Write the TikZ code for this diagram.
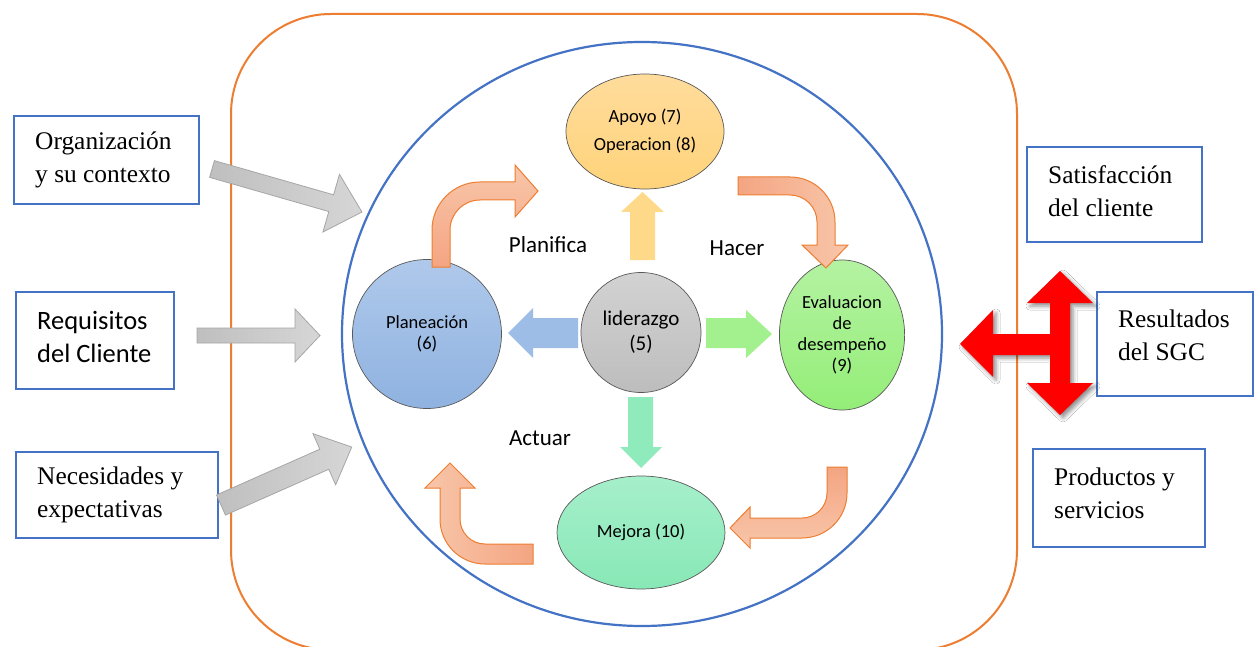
\documentclass[tikz,border=0pt]{standalone}
\usepackage{fontspec}
\setmainfont{Liberation Serif}
\newfontfamily\calibri{Carlito}
\usetikzlibrary{shapes.geometric,shadows.blur}
\definecolor{boxblue}{HTML}{4472C4}
\definecolor{frameorange}{HTML}{ED7D31}
\definecolor{bentdark}{HTML}{F4A582}
\definecolor{bentlight}{HTML}{F8C6AA}
\definecolor{bentedge}{HTML}{ED7D31}
\definecolor{grayfillA}{HTML}{BFBFBF}
\definecolor{grayfillB}{HTML}{D6D6D6}
\definecolor{grayedge}{HTML}{A6A6A6}
\definecolor{apoyoA}{HTML}{FFDC9C}
\definecolor{apoyoB}{HTML}{FFD37A}
\definecolor{planA}{HTML}{AFC9EB}
\definecolor{planB}{HTML}{8FB2E0}
\definecolor{lidA}{HTML}{D2D2D2}
\definecolor{lidB}{HTML}{BDBDBD}
\definecolor{evalA}{HTML}{B4F2A2}
\definecolor{evalB}{HTML}{94EE78}
\definecolor{mejA}{HTML}{A6EFCB}
\definecolor{mejB}{HTML}{88E8B6}
\definecolor{yarrow}{HTML}{FFD98A}
\definecolor{barrow}{HTML}{9DBDE7}
\definecolor{garrow}{HTML}{A2F08E}
\definecolor{tarrow}{HTML}{8FEBBB}
\newcommand\grayblockarrow[7]{%
  \begin{scope}[shift={(#1,#2)},rotate=#3]
    \draw[grayarr] (0,-#5) -- ({#4-#7},-#5) -- ({#4-#7},-#6) -- (#4,0)
      -- ({#4-#7},#6) -- ({#4-#7},#5) -- (0,#5) -- cycle;
  \end{scope}}
\begin{document}
\begin{tikzpicture}[x=1pt,y=-1pt,
  boxframe/.style={draw=boxblue,line width=2pt,rectangle,inner sep=0pt},
  boxtext/.style={anchor=west,align=left,inner sep=0pt,font=\fontsize{25.4pt}{33pt}\selectfont},
  stage/.style={ellipse,draw=black!65,line width=0.7pt,inner sep=0pt,align=center,font=\calibri\fontsize{18.5pt}{21pt}\selectfont},
  cyclelabel/.style={font=\calibri\fontsize{23pt}{26pt}\selectfont,inner sep=0pt},
  grayarr/.style={draw=grayedge,line width=0.8pt,left color=grayfillA,right color=grayfillB},
  bentarr/.style={draw=bentedge,line width=1pt},
]
\useasboundingbox (0,0) rectangle (1255,647);
\fill[white] (0,0) rectangle (1255,647);

% outer frame and inner circle
\draw[frameorange,line width=2pt,rounded corners=100pt] (231,14) rectangle (1017,650);
\node[ellipse,draw=boxblue,line width=2.2pt,minimum width=600pt,minimum height=584pt,inner sep=0pt] (sgc) at (642,334) {};

% stages
\node[stage,top color=apoyoA,bottom color=apoyoB,minimum width=158pt,minimum height=115pt,font=\calibri\fontsize{18.5pt}{28pt}\selectfont] (apoyo) at (645,131.5) {Apoyo (7)\\Operacion (8)};
\node[stage,circle,top color=planA,bottom color=planB,minimum size=149pt] (plan) at (427,334) {Planeación\\(6)};
\node[stage,circle,top color=lidA,bottom color=lidB,minimum size=120pt,font=\calibri\fontsize{21pt}{25pt}\selectfont] (lid) at (641,332.5) {liderazgo\\(5)};
\node[stage,top color=evalA,bottom color=evalB,minimum width=125pt,minimum height=150pt] (eval) at (842,335) {Evaluacion\\de\\desempeño\\(9)};
\node[stage,top color=mejA,bottom color=mejB,minimum width=168pt,minimum height=113pt] (mejora) at (641,532.5) {Mejora (10)};

% cycle labels
\node[cyclelabel] (planifica) at (548,245) {Planifica};
\node[cyclelabel] (hacer) at (737,248) {Hacer};
\node[cyclelabel] (actuar) at (540,438) {Actuar};

% straight block arrows from liderazgo
\fill[yarrow] (630,260) -- (630,212) -- (621,212) -- (642.5,192) -- (664,212) -- (655,212) -- (655,260) -- cycle;
\fill[barrow] (578,318) -- (533,318) -- (533,308) -- (508,333) -- (533,358) -- (533,348) -- (578,348) -- cycle;
\fill[garrow] (706,318) -- (746,318) -- (746,310) -- (772,334) -- (746,358) -- (746,348) -- (706,348) -- cycle;
\fill[tarrow] (628,397) -- (628,447) -- (620,447) -- (641,468) -- (662,447) -- (653,447) -- (653,397) -- cycle;

% bent arrows
\draw[bentarr,top color=bentlight,bottom color=bentdark]
  (432,267) -- (432,230) .. controls (432,203.5) and (453.5,182) .. (480,182)
  -- (515,182) -- (515,165) -- (538,191) -- (515,217) -- (515,200) -- (480,200)
  .. controls (463.5,200) and (450,213.5) .. (450,230) -- (450,267) -- cycle;
\draw[bentarr,left color=bentdark,right color=bentlight]
  (738,177) -- (790,177) .. controls (814.9,177) and (835,197.1) .. (835,222)
  -- (835,245) -- (848,245) -- (826,268) -- (802,245) -- (817,245) -- (817,222)
  .. controls (817,207.1) and (804.9,195) .. (790,195) -- (738,195) -- cycle;
\draw[bentarr,top color=bentdark,bottom color=bentlight]
  (827,467) -- (847,467) -- (847,493) .. controls (847,517.9) and (826.9,538) .. (802,538)
  -- (750,538) -- (750,548) -- (730,528) -- (750,507) -- (750,518) -- (802,518)
  .. controls (815.8,518) and (827,506.8) .. (827,493) -- cycle;
\draw[bentarr,left color=bentlight,right color=bentdark]
  (533,544) -- (533,564) -- (485,564) .. controls (460.1,564) and (440,543.9) .. (440,519)
  -- (440,488) -- (425,488) -- (450,463) -- (475,488) -- (460,488) -- (460,519)
  .. controls (460,532.8) and (471.2,544) .. (485,544) -- cycle;

% input boxes
\node[boxframe,minimum width=185pt,minimum height=88pt] (org) at (106.5,160) {};
\node[boxtext] (orgtext) at (35,159.5) {Organización\\y su contexto};
\node[boxframe,minimum width=158pt,minimum height=97pt] (req) at (95,340.5) {};
\node[boxtext,font=\calibri\fontsize{26.5pt}{33pt}\selectfont] (reqtext) at (37,336.5) {Requisitos\\del Cliente};
\node[boxframe,minimum width=202pt,minimum height=86pt] (nec) at (117,495) {};
\node[boxtext] (nectext) at (37,494.5) {Necesidades y\\expectativas};

% output boxes
\node[boxframe,minimum width=175pt,minimum height=95pt] (sat) at (1114.5,194.5) {};
\node[boxtext] (sattext) at (1048,191.5) {Satisfacción\\del cliente};
\node[boxframe,minimum width=156pt,minimum height=104pt] (res) at (1175,344) {};
\node[boxtext] (restext) at (1118,335.5) {Resultados\\del SGC};
\node[boxframe,minimum width=172pt,minimum height=98pt] (prod) at (1119,498) {};
\node[boxtext] (prodtext) at (1054,493.5) {Productos y\\servicios};

% gray input arrows
\grayblockarrow{212}{169}{-16}{156}{8.7}{30}{32}
\grayblockarrow{197}{335.5}{0}{123}{7.5}{26.5}{25}
\grayblockarrow{221}{505}{23.9}{143}{11}{28}{30}

% red result arrow
\fill[red,blur shadow={shadow xshift=3pt,shadow yshift=-3pt,shadow blur radius=4pt,shadow opacity=45}]
  (960,344) -- (993,310) -- (993,334) -- (1050,334) -- (1050,303) -- (1027,303)
  -- (1060,271) -- (1093,303) -- (1070,303) -- (1070,383) -- (1093,383)
  -- (1060,415) -- (1027,383) -- (1050,383) -- (1050,355) -- (993,355)
  -- (993,377) -- cycle;
\end{tikzpicture}
\end{document}
